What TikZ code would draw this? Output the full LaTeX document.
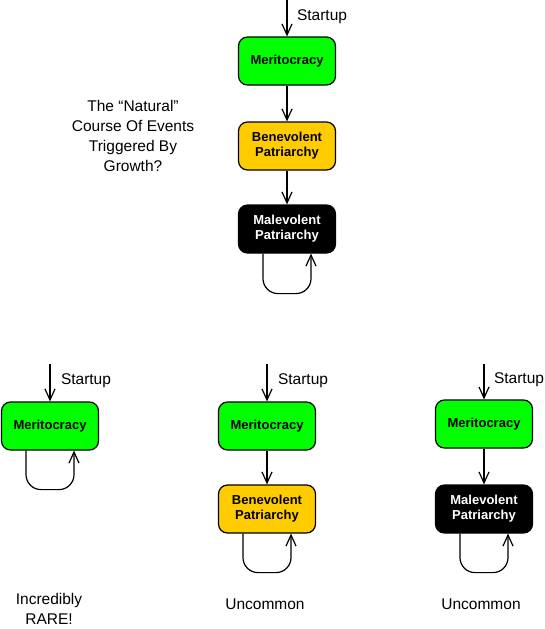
\documentclass[tikz,border=0pt]{standalone}
\usepackage{fontspec}
\setmainfont{Liberation Sans}
\usetikzlibrary{arrows.meta, positioning}
\definecolor{meritGreen}{HTML}{00FF00}
\definecolor{benevYellow}{HTML}{FFCC00}

\begin{document}
\begin{tikzpicture}[x=1pt, y=-1pt,
    state/.style={draw, line width=1.2pt, rounded corners=9pt, minimum width=97pt,
      minimum height=48pt, align=center, inner sep=2pt,
      font=\bfseries\fontsize{13}{15}\selectfont},
    merit/.style={state, fill=meritGreen},
    benev/.style={state, fill=benevYellow},
    malev/.style={state, fill=black, text=white},
    arr/.style={-{Straight Barb[length=11pt, width=10pt]}, line width=1.2pt},
    loop/.style={arr, rounded corners=15pt},
    note/.style={align=center, inner sep=0pt, font=\fontsize{15.5}{20}\selectfont}]
  \useasboundingbox (0,0) rectangle (545,629);

  \node[merit] (topMerit) at (287,61) {Meritocracy};
  \node[benev] (topBenev) at (287,146) {Benevolent\\Patriarchy};
  \node[malev] (topMalev) at (287,229) {Malevolent\\Patriarchy};
  \coordinate (topStart) at (287,0);
  \node[note] (topStartLbl) at (322,17) {Startup};
  \draw[arr] (topStart) -- (topMerit);
  \draw[arr] (topMerit) -- (topBenev);
  \draw[arr] (topBenev) -- (topMalev);
  \draw[loop] ([xshift=-24pt]topMalev.south) -- ++(0,40) -| ([xshift=24pt]topMalev.south);
  \node[note] (question) at (133,136) {The “Natural”\\Course Of Events\\Triggered By\\Growth?};

  \node[merit] (leftMerit) at (50,426) {Meritocracy};
  \coordinate (leftStart) at (50,364);
  \node[note] (leftStartLbl) at (86,381) {Startup};
  \draw[arr] (leftStart) -- (leftMerit);
  \draw[loop] ([xshift=-24pt]leftMerit.south) -- ++(0,39) -| ([xshift=24pt]leftMerit.south);
  \node[note] (leftNote) at (49,609) {Incredibly\\RARE!};

  \node[merit] (midMerit) at (267,426) {Meritocracy};
  \node[benev] (midBenev) at (267,509) {Benevolent\\Patriarchy};
  \coordinate (midStart) at (267,364);
  \node[note] (midStartLbl) at (303,381) {Startup};
  \draw[arr] (midStart) -- (midMerit);
  \draw[arr] (midMerit) -- (midBenev);
  \draw[loop] ([xshift=-24pt]midBenev.south) -- ++(0,39) -| ([xshift=24pt]midBenev.south);
  \node[note] (midNote) at (265,604) {Uncommon};

  \node[merit] (rightMerit) at (484,424) {Meritocracy};
  \node[malev] (rightMalev) at (484,509) {Malevolent\\Patriarchy};
  \coordinate (rightStart) at (484,364);
  \node[note] (rightStartLbl) at (519,380) {Startup};
  \draw[arr] (rightStart) -- (rightMerit);
  \draw[arr] (rightMerit) -- (rightMalev);
  \draw[loop] ([xshift=-24pt]rightMalev.south) -- ++(0,39) -| ([xshift=24pt]rightMalev.south);
  \node[note] (rightNote) at (481,604) {Uncommon};
\end{tikzpicture}
\end{document}
